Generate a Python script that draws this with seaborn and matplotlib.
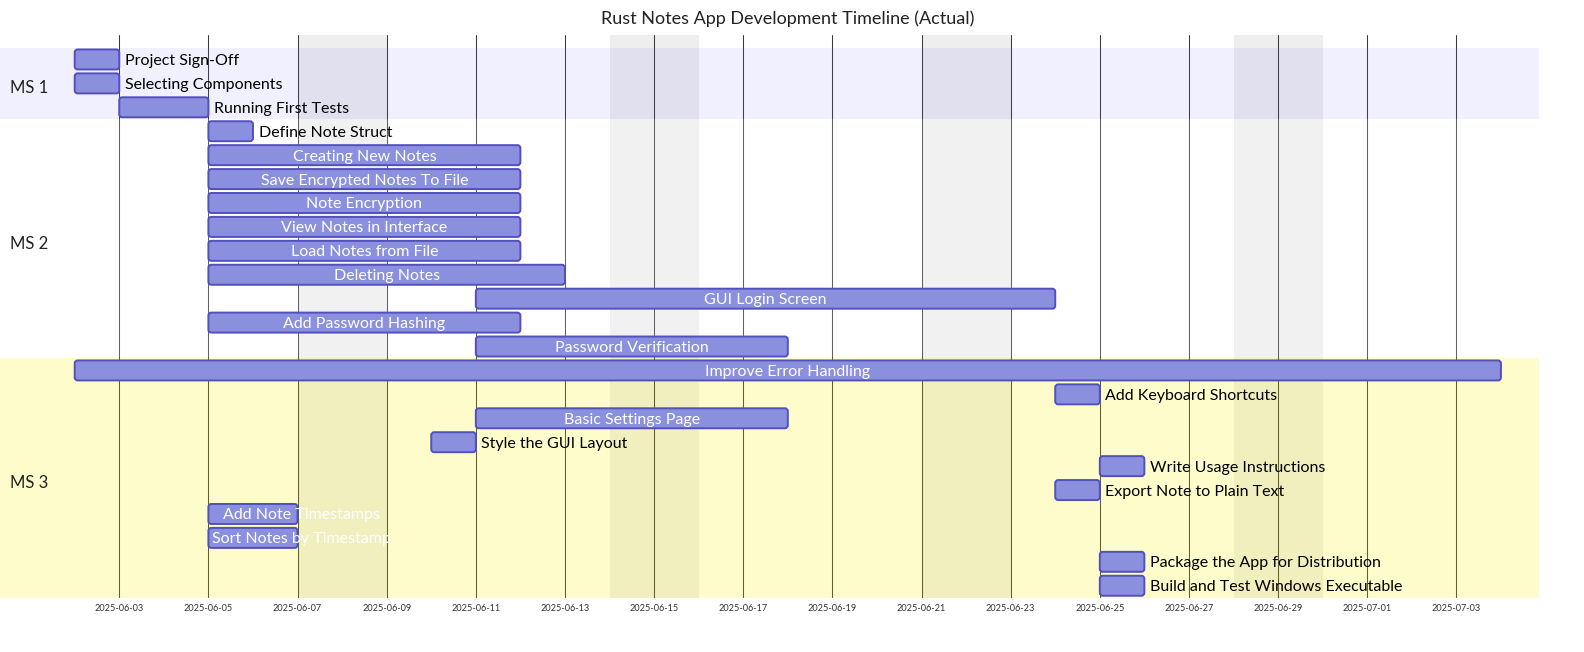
import matplotlib
matplotlib.use("Agg")
import numpy as np
import pandas as pd
import matplotlib.pyplot as plt
import matplotlib.dates as mdates
from matplotlib.patches import FancyBboxPatch
import seaborn as sns

sns.set_theme(style="white")
plt.rcParams["font.family"] = ["Lato", "DejaVu Sans"]

title = "Rust Notes App Development Timeline (Actual)"

sections = ["MS 1", "MS 2", "MS 3"]
section_colors = [("#6666ff", 0.098), ("#ffffff", 0.2), ("#fff400", 0.2)]

tasks = [
    "Project Sign-Off", "Selecting Components", "Running First Tests",
    "Define Note Struct", "Creating New Notes", "Save Encrypted Notes To File",
    "Note Encryption", "View Notes in Interface", "Load Notes from File",
    "Deleting Notes", "GUI Login Screen", "Add Password Hashing",
    "Password Verification",
    "Improve Error Handling", "Add Keyboard Shortcuts", "Basic Settings Page",
    "Style the GUI Layout", "Write Usage Instructions", "Export Note to Plain Text",
    "Add Note Timestamps", "Sort Notes by Timestamp",
    "Package the App for Distribution", "Build and Test Windows Executable",
]
task_section = ["MS 1"] * 3 + ["MS 2"] * 10 + ["MS 3"] * 10
starts = [
    "2025-06-02", "2025-06-02", "2025-06-03",
    "2025-06-05", "2025-06-05", "2025-06-05",
    "2025-06-05", "2025-06-05", "2025-06-05",
    "2025-06-05", "2025-06-11", "2025-06-05",
    "2025-06-11",
    "2025-06-02", "2025-06-24", "2025-06-11",
    "2025-06-10", "2025-06-25", "2025-06-24",
    "2025-06-05", "2025-06-05",
    "2025-06-25", "2025-06-25",
]
ends = [
    "2025-06-03", "2025-06-03", "2025-06-05",
    "2025-06-06", "2025-06-12", "2025-06-12",
    "2025-06-12", "2025-06-12", "2025-06-12",
    "2025-06-13", "2025-06-24", "2025-06-12",
    "2025-06-18",
    "2025-07-04", "2025-06-25", "2025-06-18",
    "2025-06-11", "2025-06-26", "2025-06-25",
    "2025-06-07", "2025-06-07",
    "2025-06-26", "2025-06-26",
]
tick_dates = pd.date_range("2025-06-03", "2025-07-03", freq="2D")

df = pd.DataFrame({"task": tasks, "section": task_section,
                   "start": pd.to_datetime(starts), "end": pd.to_datetime(ends)})
df["row"] = np.arange(len(df))
df["x0"] = mdates.date2num(df["start"])
df["x1"] = mdates.date2num(df["end"])

# mermaid draws these two in white, spilling past the bar
overflow_white = {"Add Note Timestamps", "Sort Notes by Timestamp"}

W, H = 1584, 652
fig = plt.figure(figsize=(W / 100, H / 100), dpi=100)
top_px, bot_px, right_px = 35, 597.7, 1538.7
ax = fig.add_axes([0, 1 - bot_px / H, right_px / W, (bot_px - top_px) / H])

day0 = df["x0"].min()
px_day = 44.57
ax.set_xlim(day0 - 74.7 / px_day, day0 + (right_px - 74.7) / px_day)
row_px = (bot_px - 47.5) / len(df)
ax.set_ylim(len(df) - 0.5, -0.5 - (47.5 - top_px) / row_px)

# weekends
for d in pd.date_range(df["start"].min(), df["end"].max() - pd.Timedelta(days=1)):
    if d.weekday() >= 5:
        x = mdates.date2num(d)
        ax.axvspan(x, x + 1, color="#eeeeee", lw=0, zorder=0.1)

ax.set_axisbelow(True)
ax.set_xticks(mdates.date2num(tick_dates))
ax.xaxis.set_major_formatter(mdates.DateFormatter("%Y-%m-%d"))
ax.grid(True, axis="x", color="#3a3a3a", linewidth=0.75)
ax.grid(False, axis="y")
ax.tick_params(axis="x", length=0, pad=4.5, labelsize=6.6, labelcolor="#333333")
ax.set_yticks([])
for s in ax.spines.values():
    s.set_visible(False)

# section bands
for name, (c, a) in zip(sections, section_colors):
    rows = df.loc[df["section"] == name, "row"]
    ax.axhspan(rows.min() - 0.5, rows.max() + 0.5, color=c, alpha=a, lw=0, zorder=2)
    ax.annotate(name, (10 / right_px, (rows.min() + rows.max()) / 2),
                xycoords=ax.get_yaxis_transform(), xytext=(0, -3.5),
                textcoords="offset points", ha="left", va="center",
                fontsize=12, color="#222222", zorder=5)

bars = ax.barh(df["row"], df["x1"] - df["x0"], left=df["x0"], height=20 / row_px,
               color="#8a90dd", edgecolor="#534fbc", linewidth=1.4, zorder=3)

# round the bar corners (about 3 px) like mermaid does
rx = 3 / px_day
aspect = (3 / row_px) / rx
for b in bars:
    b.set_visible(False)
    ax.add_patch(FancyBboxPatch((b.get_x(), b.get_y()), b.get_width(), b.get_height(),
                                boxstyle=f"round,pad=0,rounding_size={rx}",
                                mutation_aspect=aspect, facecolor="#8a90dd",
                                edgecolor="#534fbc", linewidth=1.4, zorder=3))

fig.canvas.draw()
renderer = fig.canvas.get_renderer()
for _, r in df.iterrows():
    mid = (r["x0"] + r["x1"]) / 2
    t = ax.text(mid, r["row"], r["task"], ha="center", va="center_baseline",
                color="white", fontsize=11.5, zorder=4)
    tw = t.get_window_extent(renderer).width
    bw = ax.transData.transform((r["x1"], 0))[0] - ax.transData.transform((r["x0"], 0))[0]
    if r["task"] in overflow_white:
        t.remove()
        ax.annotate(r["task"], (r["x1"], r["row"]), xytext=(3, 0),
                    textcoords="offset points", ha="center", va="center_baseline",
                    color="white", fontsize=11.5, zorder=4)
    elif tw > bw:
        t.remove()
        ax.annotate(r["task"], (r["x1"], r["row"]), xytext=(4, 0),
                    textcoords="offset points", ha="left", va="center_baseline",
                    color="black", fontsize=11.5, zorder=4)

fig.text(788 / W, 1 - 19 / H, title, ha="center", va="center",
         fontsize=13, color="#222222")

fig.savefig("out.png", dpi=100)
